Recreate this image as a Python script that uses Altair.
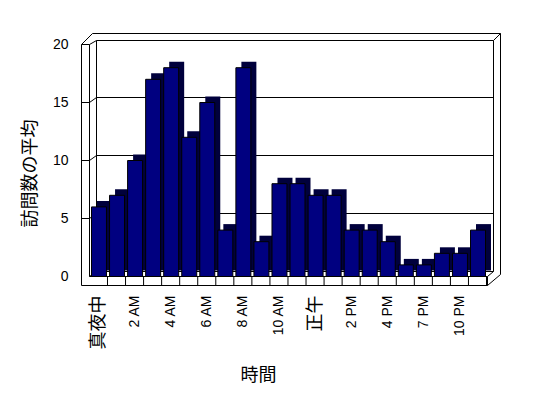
import altair as alt
import pandas as pd

# ---- data ----
categories = ["真夜中", "1 AM", "2 AM", "3 AM", "4 AM", "5 AM", "6 AM", "7 AM",
              "8 AM", "9 AM", "10 AM", "11 AM", "正午", "1 PM", "2 PM", "3 PM",
              "4 PM", "6 PM", "7 PM", "9 PM", "10 PM", "11 PM"]
visits = [6, 7, 10, 17, 18, 12, 15, 4, 18, 3, 8, 8, 7, 7, 4, 4, 3, 1, 1, 2, 2, 4]
tick_labels = categories[::2]
y_ticks = [0, 5, 10, 15, 20]
grid_values = [5, 10, 15]

# ---- layout (page pixels) ----
OX, OY = 80, 30          # plot-area origin on the page
W, H = 422, 256


def px(x):
    return x - OX


def py(y):
    return y - OY


df = pd.DataFrame({"hour": categories, "visits": visits})
grid_df = pd.DataFrame({"v": grid_values})

ys = alt.Scale(domain=[0, 20], range=[py(276.5), py(44.5)], nice=False, zero=True)
xs = alt.Scale(domain=categories, range=[px(91.5), px(91.5) + 394],
               paddingInner=0.17, paddingOuter=0)

# 3-D frame of the chart (walls + floor), page coordinates
segs = [
    (81.5, 44.5, 81.5, 285.5),
    (89.5, 44.5, 89.5, 276.5),
    (81.5, 44.5, 89.5, 44.5),
    (81.5, 44.5, 92.5, 33.5),
    (89.5, 44.5, 96.5, 40.5),
    (92.5, 33.5, 500.5, 33.5),
    (96.5, 40.5, 493.5, 40.5),
    (96.5, 40.5, 96.5, 271.5),
    (493.5, 40.5, 493.5, 271.5),
    (493.5, 40.5, 500.5, 33.5),
    (500.5, 33.5, 500.5, 274.5),
    (96.5, 271.5, 493.5, 271.5),
    (89.5, 276.5, 96.5, 271.5),
    (487.5, 276.5, 493.5, 271.5),
]
front_segs = [
    (89.5, 276.5, 487.5, 276.5),
    (81.5, 285.5, 487.5, 285.5),
    (487.5, 276.5, 487.5, 285.5),
    (487.5, 285.5, 500.5, 274.5),
]


def seg_layer(s):
    d = pd.DataFrame([{"x1": px(a), "y1": py(b), "x2": px(c), "y2": py(e)} for a, b, c, e in s])
    return alt.Chart(d).mark_rule(color="black", strokeWidth=1).encode(
        x=alt.X("x1:Q", scale=None, axis=None),
        y=alt.Y("y1:Q", scale=None, axis=None),
        x2="x2:Q",
        y2="y2:Q",
    )


frame = seg_layer(segs)
front = seg_layer(front_segs)

grid = alt.Chart(grid_df).mark_rule(color="black", strokeWidth=1, yOffset=-5).encode(
    x=alt.value(px(96.5)), x2=alt.value(px(493.5)),
    y=alt.Y("v:Q", scale=ys, axis=None),
)
wall_tick_h = alt.Chart(grid_df).mark_rule(color="black", strokeWidth=1).encode(
    x=alt.value(px(81.5)), x2=alt.value(px(89.5)),
    y=alt.Y("v:Q", scale=ys, axis=None),
)
wall_tick_d = alt.Chart(grid_df).mark_rule(color="black", strokeWidth=1, y2Offset=-5).encode(
    x=alt.value(px(89.5)), x2=alt.value(px(96.5)),
    y=alt.Y("v:Q", scale=ys, axis=None), y2="v:Q",
)

floor_ticks = alt.Chart(df).mark_rule(color="black", strokeWidth=1, xOffset=8.5).encode(
    x=alt.X("hour:N", scale=xs, axis=None),
    y=alt.value(py(276.5)), y2=alt.value(py(285.5)),
)

shadow = alt.Chart(df).mark_bar(color="#00003c", xOffset=5.5, yOffset=-6).encode(
    x=alt.X("hour:N", scale=xs, axis=None),
    y=alt.Y("visits:Q", scale=ys, axis=None),
)

bars = alt.Chart(df).mark_bar(color="#000080", stroke="black", strokeWidth=1).encode(
    x=alt.X("hour:N", scale=xs, title="時間",
            axis=alt.Axis(values=tick_labels, labelAngle=-90, labelPadding=9,
                          ticks=False, domain=False, grid=False,
                          labelFont="Liberation Sans, Noto Sans CJK JP",
                          labelFontSize={"condition": {"test": "datum.value == '真夜中' || datum.value == '正午'",
                                                       "value": 18}, "value": 14},
                          labelColor="black",
                          titleFont="Noto Sans CJK JP", titleFontSize=18,
                          titleFontWeight="normal", titleColor="black",
                          titleX=178, titleY=80, titleBaseline="top", titleAlign="center")),
    y=alt.Y("visits:Q", scale=ys, title="訪問数の平均",
            axis=alt.Axis(values=y_ticks, ticks=False, domain=False, grid=False,
                          labelPadding=12, labelFont="Liberation Sans", labelFontSize=14,
                          labelColor="black",
                          titleFont="Noto Sans CJK JP", titleFontSize=18,
                          titleFontWeight="normal", titleColor="black",
                          titleX=-50, titleY=143, titleAlign="center",
                          titleBaseline="middle", titleAngle=-90)),
)

chart = alt.layer(frame, grid, wall_tick_h, wall_tick_d, shadow, bars, front, floor_ticks).resolve_scale(
    x="independent", y="independent"
).properties(
    width=W, height=H,
    autosize="none",
    padding={"left": OX - 8, "top": OY - 8, "right": 532 - (OX - 8) - W, "bottom": 382 - (OY - 8) - H},
    background="white",
).configure_view(stroke=None)

chart.save("out.html", embed_options={"renderer": "svg", "actions": False})
